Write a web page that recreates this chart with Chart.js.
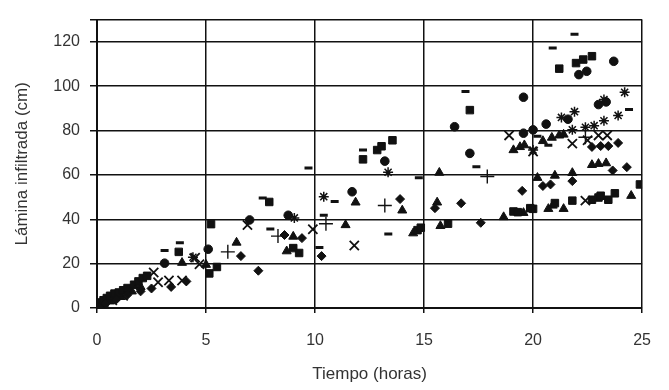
<!DOCTYPE html>
<html>
<head>
<meta charset="utf-8">
<script src="https://cdn.jsdelivr.net/npm/chart.js@4/dist/chart.umd.min.js"></script>
<style>
  body { margin: 0; background: #fff; }
</style>
</head>
<body>
<canvas id="infiltracion" width="669" height="390"></canvas>
<script>
// lamina infiltrada acumulada (cm) vs tiempo (horas), one array per marker
var diamondPts = [[0.1,0.5],[0.4,2],[0.9,4],[1.4,6],[2.0,7.5],[2.5,8.8],[3.4,9.5],[4.1,12],
  [6.6,23.4],[7.4,16.8],[8.6,32.9],[9.4,31.5],[10.3,23.4],[13.9,49.1],[15.5,45],[16.7,47.2],
  [17.6,38.4],[19.5,52.8],[20.45,55],[20.8,55.7],[21.8,57.2],[22.7,72.6],[23.1,73],[23.45,73],
  [23.65,62],[23.9,74.4],[24.3,63.5]];
var squarePts = [[0.05,1],[0.15,2.5],[0.3,3.5],[0.45,4.5],[0.6,5.5],[0.8,6.5],[1.0,7],[1.2,8],
  [1.4,9],[1.7,10.5],[1.9,12],[2.1,13.5],[2.3,14.5],[3.75,25.3],[5.15,15.6],[5.5,18.5],
  [5.23,37.8],[7.9,47.8],[9.0,27],[9.27,24.8],[12.2,67],[12.85,71.2],[13.05,72.9],[13.55,75.6],
  [14.7,35.1],[14.85,36.2],[16.1,38],[17.1,89.2],[19.1,43.5],[19.3,43.2],[19.87,45],[20.0,44.7],
  [21.0,47.3],[21.8,48.4],[22.7,48.8],[23.0,49.8],[23.1,50.6],[23.45,48.8],[23.75,51.7],[24.9,55.7],
  [21.2,107.9],[21.97,110.4],[22.3,112],[22.7,113.5]];
var trianglePts = [[0.2,1],[0.6,3],[1.1,5],[1.6,7.5],[2.0,9.5],[3.9,20.4],[5.0,19.5],[6.4,29.5],
  [8.7,25.6],[9.0,32.2],[11.4,37.4],[11.86,47.6],[14.0,44],[14.5,33.7],[15.6,47.6],[15.7,61],
  [15.75,37],[18.65,41],[19.56,42.9],[19.1,71.2],[19.4,72.6],[19.6,73.4],[20.2,58.7],[20.45,75.3],
  [20.86,76.8],[21.2,77.8],[21.4,78.2],[20.7,44.7],[20.9,46.2],[21.4,44.7],[21.0,59.7],[21.8,60.9],
  [22.7,64.5],[23.0,65],[23.35,65.3],[24.5,50.6]];
var xPts = [[0.3,1.5],[0.7,3.5],[1.2,5.5],[2.6,16],[2.8,11.6],[3.3,12.4],[3.9,12.4],[4.7,19.7],
  [4.5,22.7],[6.9,37.4],[9.9,35.5],[11.8,28.2],[18.9,77.8],[20.0,70.5],[21.8,74.1],[22.4,48.4],
  [22.5,75.6],[23.0,77.8],[23.4,77.8]];
var starPts = [[4.4,22.9],[9.05,40.6],[10.4,50.2],[13.35,61.2],[20.0,71.2],[21.3,85.9],[21.9,88.5],
  [21.8,80.3],[22.4,81.5],[22.8,82.2],[23.25,84.4],[23.25,94],[23.9,86.8],[24.2,97.2]];
var circlePts = [[0.2,2],[0.8,5],[3.1,20.2],[5.1,26.5],[7.0,39.7],[8.77,41.8],[11.7,52.4],[13.2,66.2],
  [16.4,81.7],[17.1,69.7],[19.56,95],[19.56,78.8],[20.0,80.3],[20.6,82.9],[21.6,85.1],[22.1,105.2],
  [22.46,106.7],[23.0,91.7],[23.35,92.9],[23.7,111.2]];
var plusPts = [[0.5,3],[6.0,25.3],[8.3,32.4],[10.5,38],[13.2,46.2],[17.9,59.3],[22.4,77]];
var dashPts = [[3.1,25.9],[3.8,29.4],[7.6,49.6],[7.95,35.6],[9.7,63.1],[10.2,27.3],[10.4,41.8],
  [10.9,48],[12.2,71.2],[13.36,33.4],[14.76,58.7],[16.9,97.6],[17.4,63.7],[20.2,77.4],[20.7,73.4],
  [20.9,117.2],[21.9,123.4],[24.4,89.5]];

var ink = '#111';
var textColor = '#333';
var fontFamily = '"Liberation Sans", Arial, Helvetica, sans-serif';

function toXY(pts) {
  return pts.map(function (p) { return { x: p[0], y: p[1] }; });
}

function serie(pts, style, radius, width) {
  return {
    data: toXY(pts),
    pointStyle: style,
    pointRadius: radius,
    pointHoverRadius: radius,
    pointBackgroundColor: ink,
    pointBorderColor: ink,
    pointBorderWidth: width,
    showLine: false
  };
}

var ctx = document.getElementById('infiltracion').getContext('2d');
var chart = new Chart(ctx, {
  type: 'scatter',
  data: {
    datasets: [
      serie(diamondPts, 'rectRot', 4.5, 1),
      serie(squarePts, 'rect', 5.3, 1),
      serie(trianglePts, 'triangle', 5.2, 1),
      serie(xPts, 'crossRot', 6.5, 1.8),
      serie(starPts, 'star', 5, 1.5),
      serie(circlePts, 'circle', 4.3, 1),
      serie(plusPts, 'cross', 7, 1.4),
      serie(dashPts, 'line', 4, 3)
    ]
  },
  options: {
    responsive: false,
    animation: false,
    layout: { padding: { top: 10, right: 24, bottom: 0, left: 0 } },
    plugins: { legend: { display: false }, tooltip: { enabled: false } },
    scales: {
      x: {
        type: 'linear',
        min: 0,
        max: 25,
        afterFit: function (s) { s.height = 82; },
        ticks: { stepSize: 5, color: textColor, padding: 18, font: { family: fontFamily, size: 16 } },
        grid: { color: ink, lineWidth: 1.5, tickLength: 5 },
        border: { color: ink, width: 2 },
        title: {
          display: true,
          text: 'Tiempo (horas)',
          color: textColor,
          font: { family: fontFamily, size: 17 },
          padding: { top: 0, bottom: 5 }
        }
      },
      y: {
        min: 0,
        max: 130,
        afterFit: function (s) { s.width = 97; },
        ticks: {
          stepSize: 20,
          color: textColor,
          padding: 10,
          font: { family: fontFamily, size: 16 },
          callback: function (v) { return v === 130 ? '' : v; }
        },
        grid: { color: ink, lineWidth: 1.5, tickLength: 7 },
        border: { color: ink, width: 2 },
        title: {
          display: true,
          text: 'Lámina infiltrada (cm)',
          color: textColor,
          font: { family: fontFamily, size: 17 },
          padding: { top: 12, bottom: 0 }
        }
      }
    }
  }
});
</script>
</body>
</html>
